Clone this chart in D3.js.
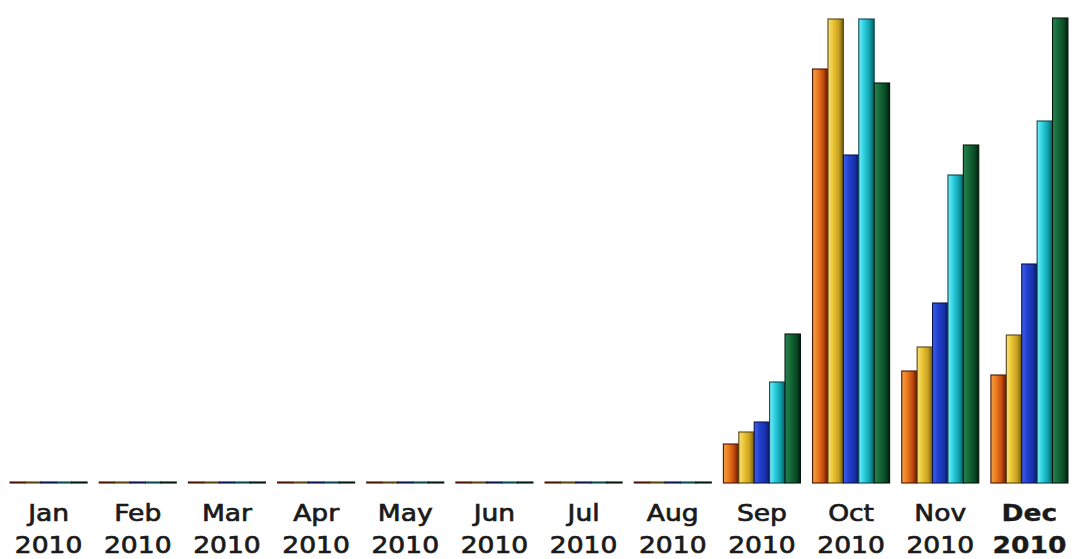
<!DOCTYPE html>
<html>
<head>
<meta charset="utf-8">
<script src="https://cdn.jsdelivr.net/npm/d3@7"></script>
<style>
  html, body { margin: 0; padding: 0; background: #ffffff; }
  svg { display: block; }
</style>
</head>
<body>
<div id="chart"></div>
<script>
// ---- data ----
const months = ["Jan", "Feb", "Mar", "Apr", "May", "Jun", "Jul", "Aug", "Sep", "Oct", "Nov", "Dec"];
const yearLabels = ["2010", "2010", "2010", "2010", "2010", "2010", "2010", "2010", "2010", "2010", "2010", "2010"];
const seriesNames = ["s1", "s2", "s3", "s4", "s5"];
const s1 = [1, 1, 1, 1, 1, 1, 1, 1, 39, 414, 112, 108];   // orange
const s2 = [1, 1, 1, 1, 1, 1, 1, 1, 51, 464, 136, 148];   // gold
const s3 = [1, 1, 1, 1, 1, 1, 1, 1, 61, 328, 180, 219];   // blue
const s4 = [1, 1, 1, 1, 1, 1, 1, 1, 101, 464, 308, 362];  // cyan
const s5 = [1, 1, 1, 1, 1, 1, 1, 1, 149, 400, 338, 465];  // dark green
const seriesValues = [s1, s2, s3, s4, s5];
const yMax = 465;

// ---- styles ----
const gradStops = [
  [["0", "#eea050"], ["0.3", "#f08020"], ["0.7", "#c04a10"], ["1", "#601400"]],
  [["0", "#f8e080"], ["0.3", "#ecc838"], ["0.7", "#c8a020"], ["1", "#6e5a10"]],
  [["0", "#4060e8"], ["0.35", "#2040d0"], ["0.75", "#1830a8"], ["1", "#0a1458"]],
  [["0", "#80eef8"], ["0.3", "#30d4e4"], ["0.7", "#10a0ac"], ["1", "#0a5a60"]],
  [["0", "#2a8250"], ["0.35", "#156a38"], ["0.75", "#0a4824"], ["1", "#021a0c"]]
];
const strokeCols = ["#4a1400", "#5a4410", "#0a1450", "#0a4850", "#021a0c"];

const W = 1074, H = 559;
const svg = d3.select("#chart").append("svg").attr("width", W).attr("height", H);
const defs = svg.append("defs");
gradStops.forEach((stops, i) => {
  const g = defs.append("linearGradient").attr("id", "g" + i)
    .attr("x1", "0").attr("x2", "1").attr("y1", "0").attr("y2", "0");
  stops.forEach(s => g.append("stop").attr("offset", s[0]).attr("stop-color", s[1]));
});

const x = d3.scaleBand().domain(months).range([4, 1074]).paddingInner(0.136).paddingOuter(0.068);
const xs = d3.scaleBand().domain(seriesNames).range([0, x.bandwidth()]).padding(0);
const y = d3.scaleLinear().domain([0, yMax]).range([483, 18]);

const groups = svg.append("g").selectAll("g")
  .data(months).join("g")
  .attr("transform", d => `translate(${x(d)},0)`);

groups.selectAll("rect")
  .data((m, mi) => seriesNames.map((s, si) => ({ s, si, v: seriesValues[si][mi] })))
  .join("rect")
  .attr("x", d => xs(d.s))
  .attr("y", d => y(d.v))
  .attr("width", xs.bandwidth())
  .attr("height", d => y(0) - y(d.v))
  .attr("fill", d => `url(#g${d.si})`)
  .attr("stroke", d => strokeCols[d.si])
  .attr("stroke-width", 1.1);

// ---- axis labels ----
const axis = svg.append("g").attr("transform", `translate(0,${y(0)})`)
  .call(d3.axisBottom(x).tickSize(0).tickPadding(0));
axis.select(".domain").remove();
axis.selectAll(".tick text").remove();
axis.selectAll(".tick").each(function (d, i) {
  const bold = d === "Dec";
  const t = d3.select(this).append("text")
    .attr("transform", "scale(1.13,1)")
    .attr("text-anchor", "middle")
    .attr("fill", "#1a1a1a")
    .attr("stroke", "#1a1a1a")
    .attr("stroke-width", bold ? 0.3 : 0.7)
    .style("font-family", "'DejaVu Sans', Verdana, sans-serif")
    .style("font-size", "23.5px")
    .style("font-weight", bold ? "bold" : "normal");
  t.append("tspan").attr("x", 0).attr("y", 38).text(d);
  t.append("tspan").attr("x", 0).attr("y", 70).text(yearLabels[i]);
});
</script>
</body>
</html>
